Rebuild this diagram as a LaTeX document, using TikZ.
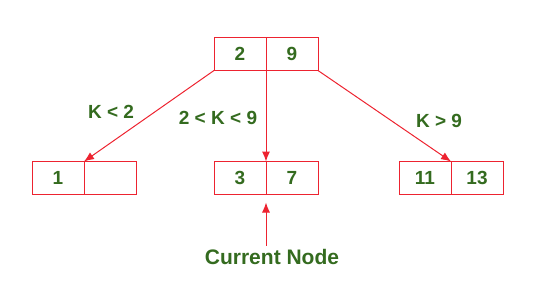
\documentclass[tikz,border=0pt]{standalone}
\usepackage{fontspec}
\setmainfont{Liberation Sans}
\usepackage{tikz}
\usetikzlibrary{arrows.meta, positioning}
\definecolor{keygreen}{RGB}{52,107,31}
\definecolor{linkred}{RGB}{237,35,48}

\begin{document}
\begin{tikzpicture}[x=1pt, y=-1pt, node distance=0pt,
        every node/.style={font=\fontsize{19}{21}\selectfont\bfseries, text=keygreen},
        cell/.style={draw=linkred, line width=1pt, minimum width=52pt, minimum height=33pt, inner sep=0pt, outer sep=0pt},
        link/.style={draw=linkred, line width=1pt, -{Latex[length=10pt,width=8pt]}}]
        \useasboundingbox (0,0) rectangle (536,293);
        % the four key boxes
        \node (root1) [cell] at (240,54) {2};
        \node (root2) [cell, right=of root1] {9};
        \node (left1) [cell] at (58,178) {1};
        \node (left2) [cell, right=of left1] {};
        \node (mid1) [cell] at (240,178) {3};
        \node (mid2) [cell, right=of mid1] {7};
        \node (right1) [cell] at (425,178) {11};
        \node (right2) [cell, right=of right1] {13};

        \draw[link] (root1.south west) -- (left1.north east);
        \draw[link] (root1.south east) -- (mid1.north east);
        \draw[link] (root2.south east) -- (right1.north east);

        \node (lessk) at (111,112) {K < 2};
        \node (betweenk) at (218,118) {2 < K < 9};
        \node (morek) at (439,121) {K > 9};

        \node (current) [font=\fontsize{21}{23}\selectfont\bfseries] at (272,257) {Current Node};
        \draw[link, shorten >=8pt] (current.north -| mid1.south east) -- (mid1.south east);
    \end{tikzpicture}
\end{document}
